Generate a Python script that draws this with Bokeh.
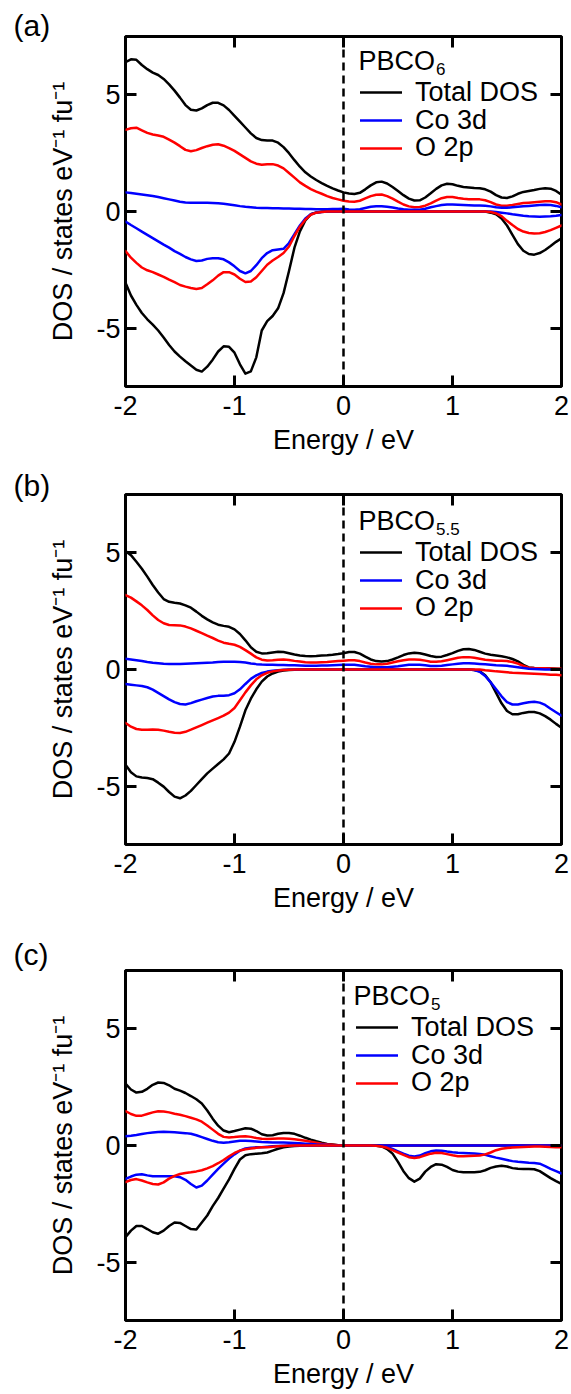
from bokeh.plotting import figure
from bokeh.models import (Range1d, FixedTicker, LinearAxis, Span, Label,
                          Legend, LegendItem, ColumnDataSource)
from bokeh.layouts import column
from bokeh.embed import file_html
from bokeh.resources import INLINE

# ---------------- data ----------------
energy = [-2.0, -1.95, -1.9, -1.85, -1.8, -1.75, -1.7, -1.65, -1.6, -1.55,
          -1.5, -1.45, -1.4, -1.35, -1.3, -1.25, -1.2, -1.15, -1.1, -1.05,
          -1.0, -0.95, -0.9, -0.85, -0.8, -0.75, -0.7, -0.65, -0.6, -0.55,
          -0.5, -0.45, -0.4, -0.35, -0.3, -0.25, -0.2, -0.15, -0.1, -0.05,
          0.0, 0.05, 0.1, 0.15, 0.2, 0.25, 0.3, 0.35, 0.4, 0.45,
          0.5, 0.55, 0.6, 0.65, 0.7, 0.75, 0.8, 0.85, 0.9, 0.95,
          1.0, 1.05, 1.1, 1.15, 1.2, 1.25, 1.3, 1.35, 1.4, 1.45,
          1.5, 1.55, 1.6, 1.65, 1.7, 1.75, 1.8, 1.85, 1.9, 1.95, 2.0]

# Panel (a) PBCO6
a_total_up = [6.4, 6.52, 6.5, 6.28, 6.1, 5.95, 5.85, 5.68, 5.45, 5.18,
              4.88, 4.56, 4.36, 4.33, 4.42, 4.56, 4.66, 4.66, 4.55, 4.35,
              4.1, 3.85, 3.6, 3.35, 3.15, 3.06, 3.04, 3.04, 2.95, 2.76,
              2.5, 2.2, 1.92, 1.68, 1.5, 1.35, 1.22, 1.1, 0.99, 0.9,
              0.82, 0.77, 0.75, 0.8, 0.95, 1.12, 1.25, 1.28, 1.2, 1.05,
              0.88, 0.7, 0.55, 0.47, 0.48, 0.6, 0.78, 0.97, 1.12, 1.19,
              1.17, 1.1, 1.05, 1.03, 1.01, 1.0, 0.95, 0.85, 0.7, 0.6,
              0.58, 0.65, 0.76, 0.84, 0.88, 0.92, 0.97, 1.0, 0.98, 0.88, 0.72]
a_total_dn = [-3.05, -3.6, -4.0, -4.35, -4.62, -4.85, -5.1, -5.4, -5.72, -6.0,
              -6.22, -6.42, -6.6, -6.78, -6.86, -6.65, -6.35, -6.0, -5.78, -5.8,
              -6.05, -6.55, -6.95, -6.85, -6.25, -5.1, -4.7, -4.48, -4.15, -3.5,
              -2.55, -1.55, -0.85, -0.38, -0.12, -0.04, -0.01, 0.0, 0.0, 0.0,
              0.0] + [0.0] * 26 + [
              -0.05, -0.12, -0.3, -0.6, -1.0, -1.4, -1.68, -1.82, -1.85, -1.78,
              -1.65, -1.48, -1.3, -1.15]
a_co_up = [0.82, 0.79, 0.76, 0.73, 0.7, 0.66, 0.62, 0.57, 0.52, 0.47,
           0.42, 0.39, 0.38, 0.38, 0.38, 0.37, 0.36, 0.35, 0.33, 0.3,
           0.27, 0.23, 0.2, 0.18, 0.16, 0.15, 0.15, 0.14, 0.14, 0.13,
           0.13, 0.12, 0.12, 0.11, 0.11, 0.1, 0.1, 0.1, 0.11, 0.11,
           0.12, 0.09, 0.08, 0.1, 0.15, 0.2, 0.22, 0.22, 0.2, 0.17,
           0.13, 0.1, 0.08, 0.07, 0.08, 0.12, 0.18, 0.23, 0.28, 0.3,
           0.3, 0.29, 0.28, 0.27, 0.26, 0.26, 0.25, 0.22, 0.18, 0.16,
           0.16, 0.18, 0.2, 0.22, 0.24, 0.26, 0.28, 0.29, 0.28, 0.24, 0.18]
a_co_dn = [-0.43, -0.58, -0.72, -0.86, -1.0, -1.14, -1.28, -1.42, -1.55, -1.7,
           -1.82, -1.95, -2.05, -2.12, -2.1, -2.03, -2.0, -2.0, -2.05, -2.18,
           -2.35, -2.55, -2.65, -2.55, -2.3, -2.0, -1.78, -1.66, -1.63, -1.6,
           -1.35, -0.97, -0.6, -0.3, -0.12, -0.05, -0.02, 0.0, 0.0, 0.0,
           0.0] + [0.0] * 27 + [
           -0.02, -0.05, -0.08, -0.12, -0.15, -0.18, -0.2, -0.21, -0.22, -0.21,
           -0.2, -0.18, -0.15]
a_o_up = [3.5, 3.57, 3.59, 3.48, 3.37, 3.3, 3.26, 3.2, 3.08, 2.95,
          2.8, 2.64, 2.58, 2.63, 2.72, 2.8, 2.86, 2.88, 2.82, 2.72,
          2.6, 2.45, 2.3, 2.15, 2.05, 2.0, 2.02, 2.03, 1.97, 1.85,
          1.65, 1.45, 1.25, 1.1, 0.96, 0.85, 0.76, 0.66, 0.58, 0.52,
          0.46, 0.43, 0.42, 0.46, 0.56, 0.66, 0.72, 0.73, 0.66, 0.55,
          0.42, 0.3, 0.22, 0.18, 0.19, 0.25, 0.35, 0.47, 0.57, 0.62,
          0.62, 0.58, 0.55, 0.53, 0.52, 0.52, 0.48, 0.4, 0.3, 0.25,
          0.25, 0.28, 0.32, 0.36, 0.38, 0.4, 0.42, 0.44, 0.44, 0.4, 0.3]
a_o_dn = [-1.7, -1.98, -2.2, -2.4, -2.52, -2.6, -2.7, -2.8, -2.92, -3.03,
          -3.15, -3.22, -3.28, -3.32, -3.28, -3.12, -2.95, -2.75, -2.6, -2.6,
          -2.7, -2.88, -3.02, -3.0, -2.82, -2.55, -2.28, -2.1, -1.95, -1.78,
          -1.5, -1.05, -0.65, -0.35, -0.14, -0.05, -0.02, 0.0, 0.0, 0.0,
          0.0] + [0.0] * 26 + [
          -0.02, -0.08, -0.2, -0.4, -0.58, -0.75, -0.86, -0.92, -0.94, -0.93,
          -0.88, -0.8, -0.7, -0.6]

# Panel (b) PBCO5.5
b_total_up = [5.08, 4.9, 4.62, 4.32, 3.98, 3.62, 3.3, 3.02, 2.9, 2.86,
              2.83, 2.75, 2.65, 2.48, 2.3, 2.15, 2.02, 1.92, 1.87, 1.83,
              1.72, 1.52, 1.25, 0.95, 0.76, 0.69, 0.7, 0.73, 0.76, 0.75,
              0.7, 0.64, 0.6, 0.58, 0.57, 0.58, 0.6, 0.61, 0.63, 0.66,
              0.7, 0.75, 0.75, 0.68, 0.55, 0.43, 0.36, 0.34, 0.36, 0.43,
              0.52, 0.62, 0.69, 0.72, 0.7, 0.64, 0.58, 0.54, 0.55, 0.62,
              0.7, 0.8, 0.87, 0.88, 0.84, 0.76, 0.68, 0.63, 0.6, 0.57,
              0.52, 0.45, 0.35, 0.2, 0.09, 0.06, 0.05, 0.05, 0.04, 0.03, 0.02]
b_total_dn = [-4.08, -4.4, -4.58, -4.63, -4.65, -4.7, -4.85, -5.02, -5.25, -5.45,
              -5.52, -5.4, -5.2, -4.95, -4.7, -4.45, -4.25, -4.05, -3.85, -3.6,
              -3.1, -2.45, -1.75, -1.25, -0.85, -0.52, -0.3, -0.17, -0.09, -0.04,
              -0.02, -0.01, 0.0, 0.0, 0.0, 0.0, 0.0, 0.0, 0.0, 0.0,
              0.0] + [0.0] * 23 + [
              -0.02, -0.08, -0.25, -0.55, -1.0, -1.45, -1.78, -1.92, -1.92, -1.86,
              -1.82, -1.82, -1.88, -2.0, -2.15, -2.33, -2.5]
b_co_up = [0.46, 0.43, 0.4, 0.36, 0.32, 0.29, 0.27, 0.25, 0.24, 0.24,
           0.24, 0.25, 0.26, 0.27, 0.28, 0.29, 0.3, 0.32, 0.33, 0.33,
           0.33, 0.32, 0.3, 0.26, 0.23, 0.21, 0.2, 0.2, 0.19, 0.19,
           0.18, 0.18, 0.17, 0.16, 0.16, 0.16, 0.17, 0.17, 0.18, 0.19,
           0.2, 0.2, 0.2, 0.17, 0.14, 0.12, 0.1, 0.1, 0.1, 0.12,
           0.14, 0.17, 0.2, 0.2, 0.2, 0.18, 0.15, 0.15, 0.16, 0.19,
           0.22, 0.25, 0.27, 0.27, 0.26, 0.24, 0.22, 0.2, 0.18, 0.17,
           0.16, 0.13, 0.1, 0.06, 0.03, 0.02, 0.01, 0.0, 0.0, 0.0, 0.0]
b_co_dn = [-0.62, -0.65, -0.68, -0.71, -0.76, -0.86, -1.0, -1.14, -1.28, -1.4,
           -1.48, -1.5, -1.44, -1.36, -1.29, -1.22, -1.16, -1.13, -1.12, -1.1,
           -1.02, -0.85, -0.62, -0.4, -0.25, -0.15, -0.09, -0.05, -0.03, -0.01,
           0.0, 0.0, 0.0, 0.0, 0.0, 0.0, 0.0, 0.0, 0.0, 0.0,
           0.0] + [0.0] * 23 + [
           -0.02, -0.1, -0.28, -0.55, -0.85, -1.15, -1.4, -1.5, -1.5, -1.45,
           -1.4, -1.38, -1.42, -1.52, -1.68, -1.83, -1.98]
b_o_up = [3.19, 3.08, 2.92, 2.75, 2.55, 2.32, 2.12, 1.98, 1.91, 1.9,
          1.89, 1.84, 1.76, 1.66, 1.56, 1.45, 1.35, 1.24, 1.15, 1.1,
          1.06, 0.97, 0.83, 0.68, 0.52, 0.42, 0.39, 0.4, 0.42, 0.43,
          0.41, 0.37, 0.34, 0.31, 0.3, 0.3, 0.31, 0.32, 0.34, 0.36,
          0.38, 0.4, 0.4, 0.36, 0.3, 0.25, 0.22, 0.22, 0.25, 0.3,
          0.35, 0.4, 0.43, 0.43, 0.42, 0.38, 0.33, 0.33, 0.35, 0.4,
          0.45, 0.5, 0.53, 0.53, 0.5, 0.46, 0.42, 0.4, 0.38, 0.37,
          0.36, 0.32, 0.25, 0.15, 0.08, 0.06, 0.05, 0.05, 0.04, 0.03, 0.03]
b_o_dn = [-2.29, -2.45, -2.55, -2.58, -2.58, -2.57, -2.58, -2.62, -2.67, -2.71,
          -2.72, -2.67, -2.58, -2.48, -2.38, -2.28, -2.18, -2.08, -1.98, -1.85,
          -1.65, -1.32, -0.98, -0.68, -0.42, -0.25, -0.14, -0.08, -0.04, -0.02,
          -0.01, 0.0, 0.0, 0.0, 0.0, 0.0, 0.0, 0.0, 0.0, 0.0,
          0.0] + [0.0] * 25 + [
          -0.03, -0.05, -0.08, -0.1, -0.12, -0.14, -0.15, -0.16, -0.17, -0.18,
          -0.19, -0.2, -0.22, -0.23, -0.25]

# Panel (c) PBCO5
c_total_up = [2.65, 2.4, 2.27, 2.3, 2.43, 2.6, 2.7, 2.68, 2.58, 2.43,
              2.35, 2.25, 2.12, 1.98, 1.8, 1.5, 1.15, 0.85, 0.64, 0.57,
              0.62, 0.68, 0.74, 0.72, 0.62, 0.48, 0.43, 0.44, 0.5, 0.54,
              0.54, 0.5, 0.42, 0.33, 0.25, 0.18, 0.12, 0.07, 0.04, 0.01,
              0.0] + [0.0] * 40
c_total_dn = [-3.93, -3.65, -3.45, -3.45, -3.58, -3.72, -3.78, -3.65, -3.45, -3.3,
              -3.32, -3.45, -3.58, -3.6, -3.3, -3.0, -2.6, -2.25, -1.85, -1.45,
              -1.0, -0.6, -0.42, -0.37, -0.35, -0.33, -0.3, -0.22, -0.14, -0.08,
              -0.04, -0.02, -0.01, 0.0, 0.0, 0.0, 0.0, 0.0, 0.0, 0.0,
              0.0, 0.0, 0.0, 0.0, 0.0, 0.0, -0.01, -0.04, -0.15, -0.35,
              -0.7, -1.1, -1.4, -1.55, -1.42, -1.12, -0.92, -0.8, -0.82, -0.92,
              -1.05, -1.12, -1.15, -1.15, -1.15, -1.13, -1.06, -0.96, -0.9, -0.87,
              -0.9, -0.97, -1.0, -1.01, -1.01, -1.02, -1.1, -1.25, -1.4, -1.53, -1.65]
c_co_up = [0.4, 0.42, 0.45, 0.49, 0.53, 0.56, 0.58, 0.59, 0.58, 0.57,
           0.55, 0.53, 0.5, 0.44, 0.36, 0.28, 0.2, 0.14, 0.12, 0.14,
           0.17, 0.2, 0.2, 0.19, 0.17, 0.15, 0.14, 0.13, 0.13, 0.13,
           0.12, 0.11, 0.1, 0.08, 0.06, 0.04, 0.03, 0.02, 0.01, 0.0,
           0.0] + [0.0] * 40
c_co_dn = [-1.43, -1.33, -1.25, -1.23, -1.28, -1.32, -1.32, -1.32, -1.32, -1.32,
           -1.36, -1.47, -1.65, -1.8, -1.72, -1.5, -1.25, -1.0, -0.78, -0.56,
           -0.38, -0.22, -0.13, -0.1, -0.08, -0.07, -0.05, -0.03, -0.02, -0.01,
           0.0, 0.0, 0.0, 0.0, 0.0, 0.0, 0.0, 0.0, 0.0, 0.0,
           0.0, 0.0, 0.0, 0.0, 0.0, 0.0, 0.0, -0.02, -0.06, -0.15,
           -0.25, -0.35, -0.44, -0.47, -0.43, -0.33, -0.25, -0.21, -0.22, -0.26,
           -0.29, -0.31, -0.32, -0.33, -0.34, -0.36, -0.4, -0.46, -0.52, -0.57,
           -0.62, -0.67, -0.7, -0.72, -0.74, -0.75, -0.78, -0.88, -1.0, -1.1, -1.2]
c_o_up = [1.47, 1.35, 1.27, 1.28, 1.35, 1.42, 1.47, 1.46, 1.42, 1.36,
          1.32, 1.26, 1.19, 1.12, 1.02, 0.86, 0.68, 0.5, 0.37, 0.34,
          0.36, 0.39, 0.4, 0.37, 0.32, 0.29, 0.28, 0.29, 0.3, 0.3,
          0.29, 0.27, 0.24, 0.2, 0.16, 0.12, 0.08, 0.05, 0.03, 0.01,
          0.0] + [0.0] * 40
c_o_dn = [-1.57, -1.48, -1.44, -1.5, -1.58, -1.65, -1.67, -1.58, -1.42, -1.3,
          -1.22, -1.18, -1.15, -1.11, -1.06, -0.98, -0.88, -0.76, -0.62, -0.46,
          -0.32, -0.22, -0.16, -0.13, -0.1, -0.08, -0.07, -0.05, -0.03, -0.02,
          -0.01, 0.0, 0.0, 0.0, 0.0, 0.0, 0.0, 0.0, 0.0, 0.0,
          0.0, 0.0, 0.0, 0.0, 0.0, 0.0, -0.01, -0.04, -0.1, -0.2,
          -0.3, -0.4, -0.5, -0.54, -0.5, -0.42, -0.35, -0.31, -0.32, -0.37,
          -0.42, -0.46, -0.46, -0.45, -0.44, -0.43, -0.38, -0.3, -0.2, -0.14,
          -0.11, -0.09, -0.07, -0.06, -0.05, -0.04, -0.04, -0.05, -0.06, -0.07, -0.07]

x_ticks = [-2, -1, 0, 1, 2]
y_ticks = [-5, 0, 5]
x_tick_labels = ["-2", "-1", "0", "1", "2"]
y_tick_labels = ["-5", "0", "5"]
series_labels = ["Total DOS", "Co 3d", "O 2p"]
x_title = "Energy / eV"
y_title = "DOS / states eV\u207b\u00b9 fu\u207b\u00b9"

for arr in (a_total_up, a_total_dn, a_co_up, a_co_dn, a_o_up, a_o_dn,
            b_total_up, b_total_dn, b_co_up, b_co_dn, b_o_up, b_o_dn,
            c_total_up, c_total_dn, c_co_up, c_co_dn, c_o_up, c_o_dn):
    assert len(arr) == len(energy), len(arr)

# ---------------- style ----------------
FONT = "Liberation Sans"
FS = "27px"
FW, FH = 436, 350
XPX = FW / 4.0
YPX = FH / 15.0
ROW_H = 32
BLACK, BLUE, RED = "#000000", "#0000ff", "#ff0000"


def dx(px):
    return -2 + px / XPX


def dy(px_below_top):
    return 7.5 - px_below_top / YPX


def make_panel(tag, sub, tot_up, tot_dn, co_up, co_dn, o_up, o_dn,
               top, bottom, tag_standoff, leg_x, leg_row1, title_x, title_mid):
    p = figure(frame_width=FW, frame_height=FH,
               x_range=Range1d(-2, 2), y_range=Range1d(-7.5, 7.5),
               output_backend="svg", toolbar_location=None,
               min_border_left=125, min_border_right=10,
               min_border_top=top, min_border_bottom=bottom,
               background_fill_color="white", border_fill_color="white")
    p.xgrid.grid_line_color = None
    p.ygrid.grid_line_color = None
    p.outline_line_color = "black"
    p.outline_line_width = 3
    p.outline_line_alpha = 1.0

    # panel tag as the plot title, shifted left of the frame
    p.title.text = tag
    p.title.align = "left"
    p.title.offset = -112
    p.title.standoff = tag_standoff
    p.title.vertical_align = "bottom"
    p.title.text_font = FONT
    p.title.text_font_size = "30px"
    p.title.text_font_style = "normal"
    p.title.text_color = "black"

    p.add_layout(LinearAxis(), "right")
    p.add_layout(LinearAxis(), "above")
    for ax in p.xaxis:
        ax.ticker = FixedTicker(ticks=x_ticks)
        ax.major_label_overrides = dict(zip(x_ticks, x_tick_labels))
    for ax in p.yaxis:
        ax.ticker = FixedTicker(ticks=y_ticks)
        ax.major_label_overrides = dict(zip(y_ticks, y_tick_labels))
    for ax in list(p.xaxis) + list(p.yaxis):
        ax.axis_line_color = None
        ax.major_tick_in = 11
        ax.major_tick_out = 0
        ax.major_tick_line_width = 3
        ax.major_tick_line_color = "black"
        ax.minor_tick_line_color = None
        ax.major_label_text_font = FONT
        ax.major_label_text_font_size = FS
        ax.major_label_text_color = "black"
    for ax in p.right + p.above:
        ax.major_label_text_font_size = "1px"
        ax.major_label_text_color = None
        ax.major_label_standoff = 0
    xb = p.below[0]
    xb.major_label_standoff = 9
    xb.axis_label = x_title
    xb.axis_label_text_font = FONT
    xb.axis_label_text_font_size = FS
    xb.axis_label_text_font_style = "normal"
    xb.axis_label_text_color = "black"
    xb.axis_label_standoff = 7
    yl = p.left[0]
    yl.major_label_standoff = 5
    yl.axis_label = y_title
    yl.axis_label_text_font = FONT
    yl.axis_label_text_font_size = "27px"
    yl.axis_label_text_font_style = "normal"
    yl.axis_label_text_color = "black"
    yl.axis_label_standoff = 15

    p.add_layout(Span(location=0, dimension="height", line_color="black",
                      line_width=2.5, line_dash="8 5"))

    src = ColumnDataSource(dict(e=energy, tu=tot_up, td=tot_dn, cu=co_up,
                                cd=co_dn, ou=o_up, od=o_dn))
    kw = dict(line_width=2.5, line_join="round", line_cap="round")
    r_tu = p.line("e", "tu", source=src, line_color=BLACK, **kw)
    r_ou = p.line("e", "ou", source=src, line_color=RED, **kw)
    r_cu = p.line("e", "cu", source=src, line_color=BLUE, **kw)
    p.line("e", "td", source=src, line_color=BLACK, **kw)
    p.line("e", "cd", source=src, line_color=BLUE, **kw)
    p.line("e", "od", source=src, line_color=RED, **kw)

    # one legend per row so the row pitch can follow the reference
    pitch = 27.8
    for i, (lab, r) in enumerate(zip(series_labels, [r_tu, r_cu, r_ou])):
        center = leg_row1 + i * pitch
        p.add_layout(Legend(items=[LegendItem(label=lab, renderers=[r])],
                            location=(leg_x, FH - center - ROW_H / 2.0),
                            padding=0, margin=0, spacing=0,
                            glyph_width=42, glyph_height=20, label_height=20,
                            label_standoff=13,
                            label_text_font=FONT, label_text_font_size=FS,
                            label_text_color="black",
                            border_line_color=None, background_fill_alpha=0))

    # legend title with subscript
    p.add_layout(Label(x=dx(title_x), y=dy(title_mid), text="PBCO",
                       text_font=FONT, text_font_size=FS, text_color="black",
                       text_align="left", text_baseline="middle"))
    p.add_layout(Label(x=dx(title_x + 2.834 * 27 + 1), y=dy(title_mid + 8),
                       text=sub, text_font=FONT, text_font_size="17px",
                       text_color="black",
                       text_align="left", text_baseline="middle"))
    return p


pa = make_panel("(a)", "6", a_total_up, a_total_dn, a_co_up, a_co_dn, a_o_up, a_o_dn,
                top=36, bottom=72, tag_standoff=-11, leg_x=235, leg_row1=55.7,
                title_x=233, title_mid=24)
pb = make_panel("(b)", "5.5", b_total_up, b_total_dn, b_co_up, b_co_dn, b_o_up, b_o_dn,
                top=36, bottom=90, tag_standoff=-14, leg_x=235, leg_row1=57.7,
                title_x=233, title_mid=26)
pc = make_panel("(c)", "5", c_total_up, c_total_dn, c_co_up, c_co_dn, c_o_up, c_o_dn,
                top=36, bottom=74, tag_standoff=0, leg_x=231, leg_row1=56.7,
                title_x=228, title_mid=25)

layout = column(pa, pb, pc, spacing=0)
open("out.html", "w").write(file_html(layout, INLINE, title="DOS"))
